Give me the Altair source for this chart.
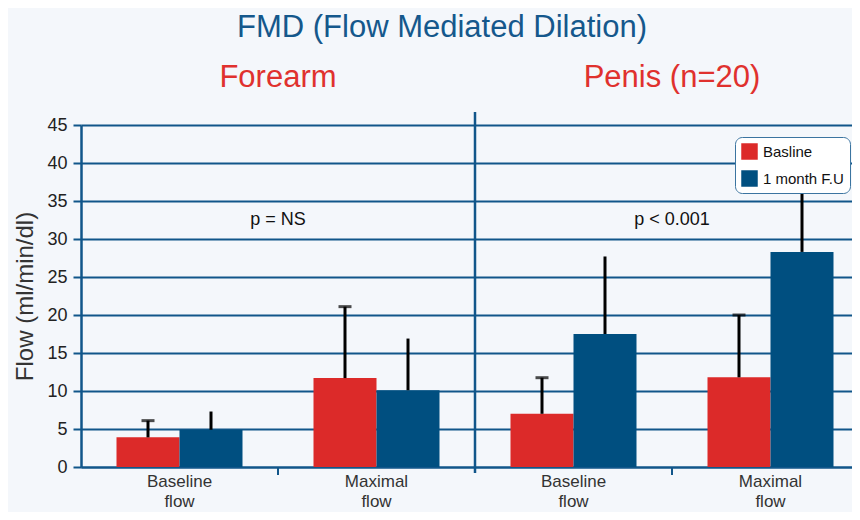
import altair as alt
import pandas as pd

# ---- data ----
sites = ["Forearm", "Forearm", "Penis", "Penis"]
measures = ["Baseline flow", "Maximal flow", "Baseline flow", "Maximal flow"]
series_names = ["Basline", "1 month F.U"]
basline_mean = [3.9, 11.7, 7.0, 11.8]
basline_upper = [6.1, 21.1, 11.75, 20.0]
fu_mean = [4.9, 10.1, 17.5, 28.3]
fu_upper = [7.3, 16.9, 27.7, 36.3]
site_titles = ["Forearm", "Penis (n=20)"]
p_labels = ["p = NS", "p < 0.001"]
main_title = "FMD (Flow Mediated Dilation)"
y_ticks = [0, 5, 10, 15, 20, 25, 30, 35, 40, 45]

RED = "#dc2a29"
BLUE = "#004f80"
GRID = "#11568a"
BG = "#f4f7fb"
FONT = "Liberation Sans"

keys = [f"{s}|{m}" for s, m in zip(sites, measures)]

rows = []
for i, k in enumerate(keys):
    rows.append(dict(key=k, series=series_names[0], value=basline_mean[i], upper=basline_upper[i]))
    rows.append(dict(key=k, series=series_names[1], value=fu_mean[i], upper=fu_upper[i]))
df = pd.DataFrame(rows)

site_df = pd.DataFrame({"key": [keys[1], keys[3]], "site": site_titles, "p": p_labels})
tick_df = pd.DataFrame({"key": [keys[1], keys[3]]})
div_df = pd.DataFrame({"key": [keys[2]]})
title_df = pd.DataFrame({"t": [main_title]})

x_axis = alt.Axis(
    title=None,
    labelExpr="split(split(datum.value, '|')[1], ' ')",
    labelAngle=0,
    ticks=False,
    labelPadding=6,
    labelFontSize=17,
    labelLineHeight=20,
    labelColor="#333333",
    domainColor=GRID,
    domainWidth=2,
    grid=False,
)
x_scale = alt.Scale(domain=keys, range=[0, 788], paddingInner=0, paddingOuter=0)


def X(band=None):
    if band is None:
        return alt.X("key:N", scale=x_scale, sort=keys, axis=x_axis)
    return alt.X("key:N", scale=x_scale, sort=keys, axis=x_axis, bandPosition=band)


y_axis = alt.Axis(
    values=y_ticks,
    title="Flow (ml/min/dl)",
    grid=True,
    gridColor=GRID,
    gridWidth=2,
    gridOpacity=1,
    tickColor=GRID,
    tickWidth=2,
    tickSize=8,
    domainColor=GRID,
    domainWidth=2.5,
    labelFontSize=18,
    labelColor="#222222",
    labelPadding=6,
    titleFontSize=24,
    titleFontWeight="normal",
    titleColor="#333333",
    titlePadding=9,
)
y_scale = alt.Scale(domain=[0, 45], nice=False)


def Y(field):
    return alt.Y(field, scale=y_scale, axis=y_axis)


xoff = alt.XOffset("series:N", sort=series_names,
                   scale=alt.Scale(domain=series_names, paddingInner=0, paddingOuter=0.5635))

bars = alt.Chart(df).mark_bar().encode(
    x=X(),
    xOffset=xoff,
    y=Y("value:Q"),
    color=alt.Color(
        "series:N",
        sort=series_names,
        scale=alt.Scale(domain=series_names, range=[RED, BLUE]),
        legend=alt.Legend(
            title=None, orient="none", legendX=654, legendY=12,
            fillColor="#ffffff", strokeColor="#3b74a0", cornerRadius=7,
            padding=6, symbolType="square", symbolSize=272, symbolStrokeWidth=0,
            labelFontSize=15, labelColor="#111111", labelFont=FONT,
            rowPadding=10, labelOffset=5, labelLimit=300,
        ),
    ),
)

err = alt.Chart(df).mark_rule(color="black", strokeWidth=3).encode(
    x=X(), xOffset=xoff, y=Y("value:Q"), y2="upper:Q"
)

caps = alt.Chart(df).transform_filter(
    alt.datum.series == series_names[0]
).mark_tick(color="black", thickness=3, size=13).encode(
    x=X(), xOffset=xoff, y=Y("upper:Q")
)

ticks = alt.Chart(tick_df).mark_rule(color=GRID, strokeWidth=2).encode(
    x=X(0), y=alt.value(342), y2=alt.value(350)
)
divider = alt.Chart(div_df).mark_rule(color=GRID, strokeWidth=2.5).encode(
    x=X(0), y=alt.value(-13), y2=alt.value(348)
)

site_text = alt.Chart(site_df).mark_text(
    fontSize=31, color="#e0312e", font=FONT, align="center", baseline="middle"
).encode(x=X(0), y=alt.value(-47), text="site:N")

p_text = alt.Chart(site_df).mark_text(
    fontSize=18, color="#111111", font=FONT, align="center", baseline="middle"
).encode(x=X(0), y=alt.value(95), text="p:N")

title_text = alt.Chart(title_df).mark_text(
    fontSize=31, color="#15588c", font=FONT, align="center", baseline="middle"
).encode(x=alt.value(361), y=alt.value(-97), text="t:N")

chart = alt.layer(
    divider, ticks, bars, err, caps, site_text, p_text, title_text
).properties(
    width=771,
    height=342,
    autosize=alt.AutoSizeParams(type="none"),
    padding={"left": 73, "top": 117, "right": 0, "bottom": 45},
    background=BG,
).configure(font=FONT).configure_view(stroke=None, fill=BG)

chart.save("out.html", embed_options={"renderer": "svg", "actions": False})
